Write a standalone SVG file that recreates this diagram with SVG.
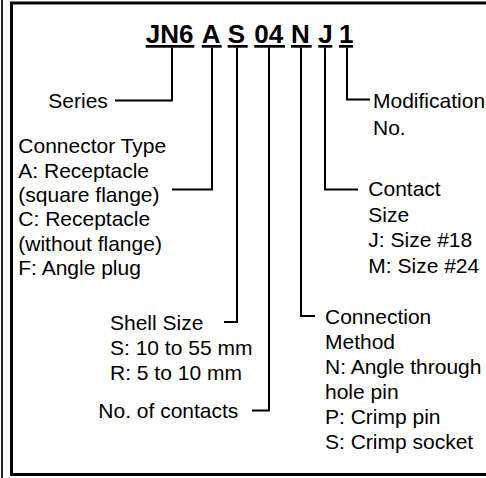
<svg xmlns="http://www.w3.org/2000/svg" width="486" height="478" viewBox="0 0 486 478">
<style>
.t{font-family:"Liberation Sans",Arial,sans-serif;font-size:21px;fill:#000}
.h{font-family:"Liberation Sans",Arial,sans-serif;font-size:26px;font-weight:bold;fill:#000}
.c{fill:none;stroke:#000;stroke-width:2}
.u{fill:#000}
</style>
<rect width="486" height="478" fill="#fff"/>
<g id="frame">
<line x1="2" y1="0" x2="2" y2="478" stroke="#222" stroke-width="2"/>
<path d="M490,3 H11.5 V474.5 H490" fill="none" stroke="#000" stroke-width="3"/>
</g>
<g id="code">
<text class="h" x="145.7" y="43.3">JN6</text>
<text class="h" x="201.7" y="43.3">A</text>
<text class="h" x="227.7" y="43.3">S</text>
<text class="h" x="254.3" y="43.3">04</text>
<text class="h" x="291" y="43.3">N</text>
<text class="h" x="318.3" y="43.3">J</text>
<text class="h" x="339" y="43.3">1</text>
<rect class="u" x="145.7" y="45" width="48.6" height="2.7"/>
<rect class="u" x="201.7" y="45" width="20" height="2.7"/>
<rect class="u" x="227.7" y="45" width="20" height="2.7"/>
<rect class="u" x="254.3" y="45" width="30.7" height="2.7"/>
<rect class="u" x="291" y="45" width="20.7" height="2.7"/>
<rect class="u" x="318.3" y="45" width="14" height="2.7"/>
<rect class="u" x="339" y="45" width="14" height="2.7"/>
</g>
<g id="connectors">
<path class="c" d="M172,47.5 V100.5 H115"/>
<path class="c" d="M347,47.5 V99.5 H370"/>
<path class="c" d="M212,47.5 V189.5 H172"/>
<path class="c" d="M325,47.5 V189.5 H358"/>
<path class="c" d="M237,47.5 V322 H224"/>
<path class="c" d="M269,47.5 V410.5 H252"/>
<path class="c" d="M301,47.5 V316 H315"/>
</g>
<g id="series"><text class="t" x="48.3" y="108.3">Series</text></g>
<g id="modification"><text class="t" x="373" y="108"><tspan x="373">Modification</tspan><tspan x="373" y="135">No.</tspan></text></g>
<g id="connector-type"><text class="t" x="18.3" y="153.3"><tspan x="18.3">Connector Type</tspan><tspan x="18.3" y="177.7">A: Receptacle</tspan><tspan x="18.3" y="202">(square flange)</tspan><tspan x="18.3" y="226.3">C: Receptacle</tspan><tspan x="18.3" y="250.6">(without flange)</tspan><tspan x="18.3" y="274.9">F: Angle plug</tspan></text></g>
<g id="contact-size"><text class="t" x="368.3" y="196"><tspan x="368.3">Contact</tspan><tspan x="368.3" y="221.5">Size</tspan><tspan x="368.3" y="247">J: Size #18</tspan><tspan x="368.3" y="272.5">M: Size #24</tspan></text></g>
<g id="shell-size"><text class="t" x="110" y="329.5"><tspan x="110">Shell Size</tspan><tspan x="110" y="354.5">S: 10 to 55 mm</tspan><tspan x="110" y="379.5">R: 5 to 10 mm</tspan></text></g>
<g id="contacts"><text class="t" x="98.3" y="418">No. of contacts</text></g>
<g id="connection-method"><text class="t" x="325" y="324"><tspan x="325">Connection</tspan><tspan x="325" y="349">Method</tspan><tspan x="325" y="374">N: Angle through</tspan><tspan x="325" y="399">hole pin</tspan><tspan x="325" y="424">P: Crimp pin</tspan><tspan x="325" y="449">S: Crimp socket</tspan></text></g>
</svg>
